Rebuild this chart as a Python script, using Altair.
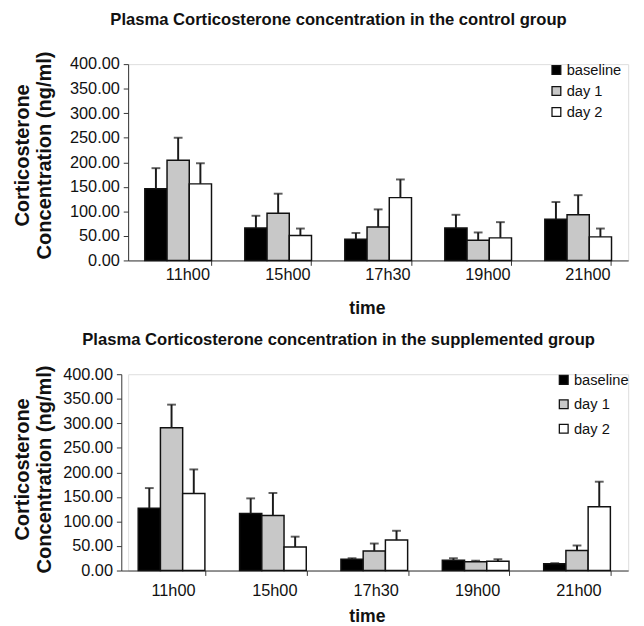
import altair as alt
import pandas as pd

# ---- data ----
times = ["11h00", "15h00", "17h30", "19h00", "21h00"]
groups = ["baseline", "day 1", "day 2"]
y_ticks = [0, 50, 100, 150, 200, 250, 300, 350, 400]

control_baseline = [146, 66, 43, 66, 84]
control_baseline_err = [42, 25, 13, 27, 35]
control_day1 = [204, 96, 68, 41, 93]
control_day1_err = [46, 40, 36, 16, 40]
control_day2 = [156, 51, 128, 46, 48]
control_day2_err = [42, 14, 37, 32, 17]

supp_baseline = [127, 116, 23, 21, 14]
supp_baseline_err = [41, 31, 2, 4, 1]
supp_day1 = [291, 112, 40, 18, 41]
supp_day1_err = [47, 46, 15, 2, 10]
supp_day2 = [157, 48, 62, 19, 130]
supp_day2_err = [49, 21, 19, 4, 51]

fills = ["#000000", "#c8c8c8", "#ffffff"]
FONT = "Liberation Sans"
INK = "#111111"


def frame(series):
    rows = []
    for g, (vals, errs) in zip(groups, series):
        for t, v, e in zip(times, vals, errs):
            rows.append({"time": t, "group": g, "value": v, "upper": v + e})
    return pd.DataFrame(rows)


def panel(df, title, width, x_range, y_axis_offset, title_dx, title_offset,
          y_title_pad, y_title_y, x_label_pad, x_label_off, x_title_x, x_title_y,
          legend_x, legend_y, legend_row):
    xscale = alt.Scale(paddingInner=0.333, paddingOuter=0.1667)
    if x_range is not None:
        xscale = alt.Scale(paddingInner=0.333, paddingOuter=0.1667, range=x_range)
    xenc = alt.X(
        "time:N", sort=times, scale=xscale,
        axis=alt.Axis(
            title="time", titleFont=FONT, titleFontSize=18, titleFontWeight="bold",
            titleColor=INK, titleX=x_title_x, titleY=x_title_y,
            titleBaseline="alphabetic", titleAlign="center",
            labelAngle=0, labelFont=FONT, labelFontSize=16.7, labelColor=INK,
            labelPadding=x_label_pad, labelOffset=x_label_off,
            tickSize=5, bandPosition=1, domainColor="#333333", tickColor="#333333",
        ),
    )
    xoff = alt.XOffset("group:N", sort=groups, scale=alt.Scale(domain=groups))
    yscale = alt.Scale(domain=[0, 400], nice=False)
    yaxis = alt.Axis(
        title=["Corticosterone", "Concentration (ng/ml)"],
        titleFont=FONT, titleFontSize=20.5, titleFontWeight="bold", titleColor=INK,
        titlePadding=y_title_pad, titleLineHeight=23, titleY=y_title_y,
        values=y_ticks, format=".2f", grid=False, labelOverlap=False,
        labelFont=FONT, labelFontSize=16.7, labelColor=INK, labelPadding=4,
        tickSize=5, domainColor="#333333", tickColor="#333333", offset=y_axis_offset,
    )
    base = alt.Chart(df).encode(x=xenc, xOffset=xoff)
    bars = base.mark_bar(stroke=INK, strokeWidth=1.5).encode(
        y=alt.Y("value:Q", scale=yscale, axis=yaxis),
        fill=alt.Fill(
            "group:N", sort=groups,
            scale=alt.Scale(domain=groups, range=fills),
            legend=alt.Legend(
                title=None, orient="none", legendX=legend_x, legendY=legend_y,
                direction="vertical", symbolType="square", symbolSize=81,
                symbolStrokeColor=INK, symbolStrokeWidth=1.3,
                labelFont=FONT, labelFontSize=15, labelColor=INK, labelOffset=3,
                rowPadding=legend_row, padding=0,
            ),
        ),
    )
    stems = base.mark_rule(color="#1a1a1a", strokeWidth=2).encode(
        y=alt.Y("value:Q", scale=yscale, axis=yaxis), y2="upper:Q"
    )
    caps = base.mark_tick(color="#1a1a1a", thickness=2, size=9).encode(
        y=alt.Y("upper:Q", scale=yscale, axis=yaxis)
    )
    return alt.layer(bars, stems, caps).properties(
        width=width, height=201,
        title=alt.TitleParams(
            text=title, font=FONT, fontSize=17, fontWeight="bold", color=INK,
            anchor="middle", dx=title_dx, offset=title_offset,
        ),
    )


control_df = frame([
    (control_baseline, control_baseline_err),
    (control_day1, control_day1_err),
    (control_day2, control_day2_err),
])
supp_df = frame([
    (supp_baseline, supp_baseline_err),
    (supp_day1, supp_day1_err),
    (supp_day2, supp_day2_err),
])

top = panel(control_df, "Plasma Corticosterone concentration in the control group",
            width=512, x_range=None, y_axis_offset=0, title_dx=-40.6, title_offset=22.5,
            y_title_pad=15, y_title_y=93, x_label_pad=2, x_label_off=10,
            x_title_x=244.5, x_title_y=54, legend_x=431, legend_y=-1.5, legend_row=5.5)
bottom = panel(supp_df, "Plasma Corticosterone concentration in the supplemented group",
               width=512, x_range=[-7, 512], y_axis_offset=7, title_dx=-40.5, title_offset=16,
               y_title_pad=8, y_title_y=97, x_label_pad=8, x_label_off=1.5,
               x_title_x=244.5, x_title_y=52, legend_x=438.5, legend_y=-1.7, legend_row=9)

chart = alt.concat(top, bottom, columns=1, spacing=13.5).resolve_scale(
    fill="independent", x="independent", y="independent"
).resolve_legend(fill="independent").properties(
    padding={"left": 4, "top": -5, "right": 0, "bottom": 0}
).configure_view(stroke=None).configure(background="white")

chart.save("out.html", embed_options={"renderer": "svg", "actions": False})
